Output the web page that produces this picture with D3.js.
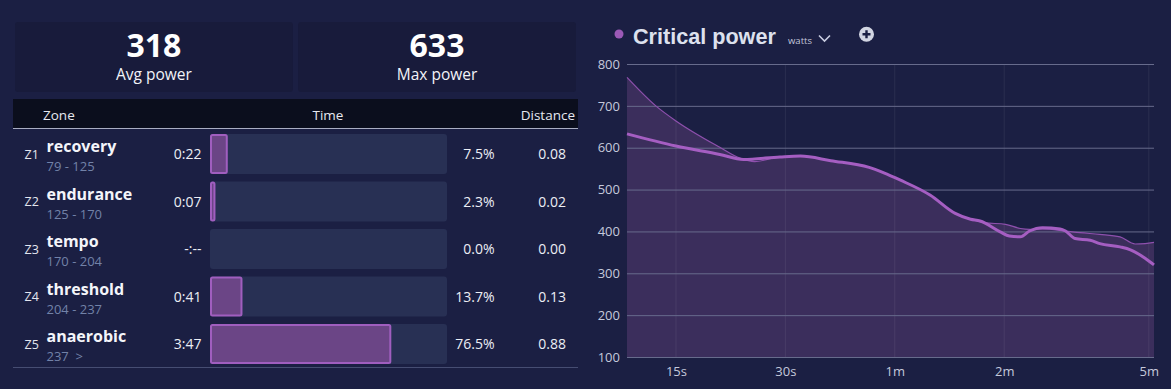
<!DOCTYPE html>
<html>
<head>
<meta charset="utf-8">
<script src="https://cdn.jsdelivr.net/npm/d3@7"></script>
<style>
  html, body { margin: 0; padding: 0; background: #1b1f43; }
  svg { display: block; }
</style>
</head>
<body>
<svg id="chart" width="1171" height="389"></svg>
<script>
// ---- Data ----
const statValues = [318, 633];
const statLabels = ["Avg power", "Max power"];

const zoneIds = ["Z1", "Z2", "Z3", "Z4", "Z5"];
const zoneNames = ["recovery", "endurance", "tempo", "threshold", "anaerobic"];
const zoneRanges = ["79 - 125", "125 - 170", "170 - 204", "204 - 237", "237\u00a0\u00a0>"];
const zoneTimes = ["0:22", "0:07", "-:--", "0:41", "3:47"];
const zonePercents = [7.5, 2.3, 0.0, 13.7, 76.5];
const zoneDistances = [0.08, 0.02, 0.00, 0.13, 0.88];

// Critical power curve (seconds, watts) - this ride
const cpSeconds = [11, 15, 19.8, 23, 29, 33, 40, 51, 56, 62, 75, 88, 97, 103, 117, 124, 133, 141, 153, 171, 177, 188, 207, 220, 250, 267, 293, 310];
const cpWatts   = [633, 604, 584, 572, 578, 580, 569, 553, 540, 523, 487, 443, 429, 425, 399, 389, 387, 401, 409, 406, 401, 383, 379, 371, 363, 356, 336, 320];
// Best curve (area)
const bestSeconds = [11, 13.2, 15, 19.8, 22.5, 24.7, 29, 33, 40, 51, 56, 62, 75, 88, 97, 106, 121, 133, 141, 153, 177, 194, 220, 250, 275, 293, 310];
const bestWatts   = [768, 700, 664, 601, 575, 567, 578, 580, 569, 553, 540, 523, 487, 443, 429, 421, 417, 407, 405, 406, 401, 397, 393, 387, 370, 371, 374];

const yTicks = [100, 200, 300, 400, 500, 600, 700, 800];
const xTickValues = [15, 30, 60, 120, 300];
const xTickLabels = ["15s", "30s", "1m", "2m", "5m"];

// ---- Drawing ----
const svg = d3.select("#chart");
const font = "'Open Sans', sans-serif";

// Stat cards
const cardX = d3.scaleBand().domain(d3.range(statValues.length)).range([15, 576]).paddingInner(0.018);
const cards = svg.selectAll("g.card").data(statValues).join("g")
  .attr("transform", (d, i) => `translate(${cardX(i)},22)`);
cards.append("rect").attr("width", cardX.bandwidth()).attr("height", 70).attr("rx", 3).attr("fill", "#181b3b");
cards.append("text").attr("x", cardX.bandwidth() / 2).attr("y", 35).attr("text-anchor", "middle")
  .attr("font-family", font).attr("font-weight", 700).attr("font-size", 32).attr("fill", "#ffffff").text(d => d);
cards.append("text").attr("x", cardX.bandwidth() / 2).attr("y", 58).attr("text-anchor", "middle")
  .attr("font-family", font).attr("font-size", 15.5).attr("fill", "#f2f3f8").text((d, i) => statLabels[i]);

// Table header
svg.append("rect").attr("x", 13).attr("y", 99).attr("width", 565).attr("height", 29).attr("fill", "#0b0e1d");
svg.append("line").attr("x1", 13).attr("x2", 578).attr("y1", 128.5).attr("y2", 128.5).attr("stroke", "#a9adc2").attr("stroke-width", 1);
const hdr = [["Zone", 43, "start"], ["Time", 328, "middle"], ["Distance", 575, "end"]];
svg.selectAll("text.hdr").data(hdr).join("text")
  .attr("x", d => d[1]).attr("y", 119.5).attr("text-anchor", d => d[2])
  .attr("font-family", font).attr("font-size", 13.5).attr("fill", "#e6e8f0").text(d => d[0]);

// Rows
const rowY = d3.scaleBand().domain(zoneIds).range([134, 364]).paddingInner(7.5 / 47.5).paddingOuter(0);
const barX = d3.scaleLinear().domain([0, 100]).range([210, 447]);
const rows = svg.selectAll("g.row").data(zoneIds).join("g")
  .attr("transform", d => `translate(0,${rowY(d)})`);
const bh = rowY.bandwidth();
rows.append("rect").attr("x", barX(0)).attr("width", barX(100) - barX(0)).attr("height", bh).attr("rx", 3).attr("fill", "#283054");
rows.filter((d, i) => zonePercents[i] > 0).append("rect")
  .attr("x", barX(0) + 1).attr("y", 1)
  .attr("width", (d) => Math.max(barX(zonePercents[zoneIds.indexOf(d)]) - barX(0) - 2, 1.5))
  .attr("height", bh - 2).attr("rx", 1.5)
  .attr("fill", "#6b4586").attr("stroke", "#a05ebf").attr("stroke-width", 2);
rows.append("text").attr("x", 24.5).attr("y", 24.5).attr("font-family", font).attr("font-size", 12.5).attr("fill", "#e4e6ef").text(d => d);
rows.append("text").attr("x", 46.5).attr("y", 18).attr("font-family", font).attr("font-weight", 700).attr("font-size", 16).attr("fill", "#f4f5fa").text((d, i) => zoneNames[i]);
rows.append("text").attr("x", 46.5).attr("y", 37).attr("font-family", font).attr("font-size", 13).attr("fill", "#7282a8").text((d, i) => zoneRanges[i]);
rows.append("text").attr("x", 201.5).attr("y", 25).attr("text-anchor", "end").attr("font-family", font).attr("font-size", 14).attr("fill", "#eceef5").text((d, i) => zoneTimes[i]);
rows.append("text").attr("x", 494.5).attr("y", 25).attr("text-anchor", "end").attr("font-family", font).attr("font-size", 14).attr("fill", "#eceef5").text((d, i) => zonePercents[i].toFixed(1) + "%");
rows.append("text").attr("x", 566).attr("y", 25).attr("text-anchor", "end").attr("font-family", font).attr("font-size", 14).attr("fill", "#eceef5").text((d, i) => zoneDistances[i].toFixed(2));
svg.append("line").attr("x1", 13).attr("x2", 578).attr("y1", 367.5).attr("y2", 367.5).attr("stroke", "#464d72").attr("stroke-width", 1);

// Chart title
svg.append("circle").attr("cx", 619).attr("cy", 34).attr("r", 4.5).attr("fill", "#9b59b6");
svg.append("text").attr("x", 633).attr("y", 44).attr("font-family", "'Liberation Sans', Arial, sans-serif").attr("font-weight", 700).attr("font-size", 21.6).attr("fill", "#dde1ee").text("Critical power");
svg.append("text").attr("x", 788).attr("y", 43.5).attr("font-family", font).attr("font-size", 9.5).attr("fill", "#c3c7dd").text("watts");
svg.append("path").attr("d", "M819,35.5 L824.5,41 L830,35.5").attr("fill", "none").attr("stroke", "#c8cce0").attr("stroke-width", 1.6);
svg.append("circle").attr("cx", 866.5).attr("cy", 34.3).attr("r", 7.5).attr("fill", "#d2d5e2");
svg.append("path").attr("d", "M862.5,34.3 H870.5 M866.5,30.3 V38.3").attr("stroke", "#1b1f43").attr("stroke-width", 2.4);

// Chart scales
const x = d3.scaleLog().domain([11, 310]).range([627, 1154]);
const y = d3.scaleLinear().domain([100, 800]).range([357, 64]);

// Area (best curve)
const bestData = bestSeconds.map((s, i) => ({ s, w: bestWatts[i] }));
const cpData = cpSeconds.map((s, i) => ({ s, w: cpWatts[i] }));
const curve = d3.curveMonotoneX;
svg.append("path").datum(bestData)
  .attr("d", d3.area().x(d => x(d.s)).y0(y(100)).y1(d => y(d.w)).curve(curve))
  .attr("fill", "#3b2e5c");

// Vertical gridlines
svg.append("g").selectAll("line").data(xTickValues).join("line")
  .attr("x1", d => x(d)).attr("x2", d => x(d)).attr("y1", 64).attr("y2", 357)
  .attr("stroke", "#ffffff").attr("stroke-opacity", 0.07).attr("stroke-width", 1);

// Horizontal gridlines + y axis labels
const yAxis = d3.axisLeft(y).tickValues(yTicks).tickSize(-(1154 - 627)).tickPadding(7);
const ya = svg.append("g").attr("transform", "translate(627,0)").call(yAxis);
ya.select(".domain").remove();
ya.selectAll(".tick line").attr("stroke", "#676b8c").attr("stroke-width", 1);
ya.selectAll(".tick text").attr("font-family", font).attr("font-size", 13).attr("fill", "#c5c9dc").attr("x", -7);

// X axis labels
const xAxis = d3.axisBottom(x).tickValues(xTickValues).tickFormat((d, i) => xTickLabels[i]).tickSize(0).tickPadding(10);
const xa = svg.append("g").attr("transform", "translate(0,357)").call(xAxis);
xa.select(".domain").remove();
xa.selectAll(".tick text").attr("font-family", font).attr("font-size", 13).attr("fill", "#c5c9dc");

// Lines
svg.append("path").datum(bestData)
  .attr("d", d3.line().x(d => x(d.s)).y(d => y(d.w)).curve(curve))
  .attr("fill", "none").attr("stroke", "#8e50ad").attr("stroke-width", 1.2);
svg.append("path").datum(cpData)
  .attr("d", d3.line().x(d => x(d.s)).y(d => y(d.w)).curve(curve))
  .attr("fill", "none").attr("stroke", "#a55ec2").attr("stroke-width", 3);
</script>
</body>
</html>
